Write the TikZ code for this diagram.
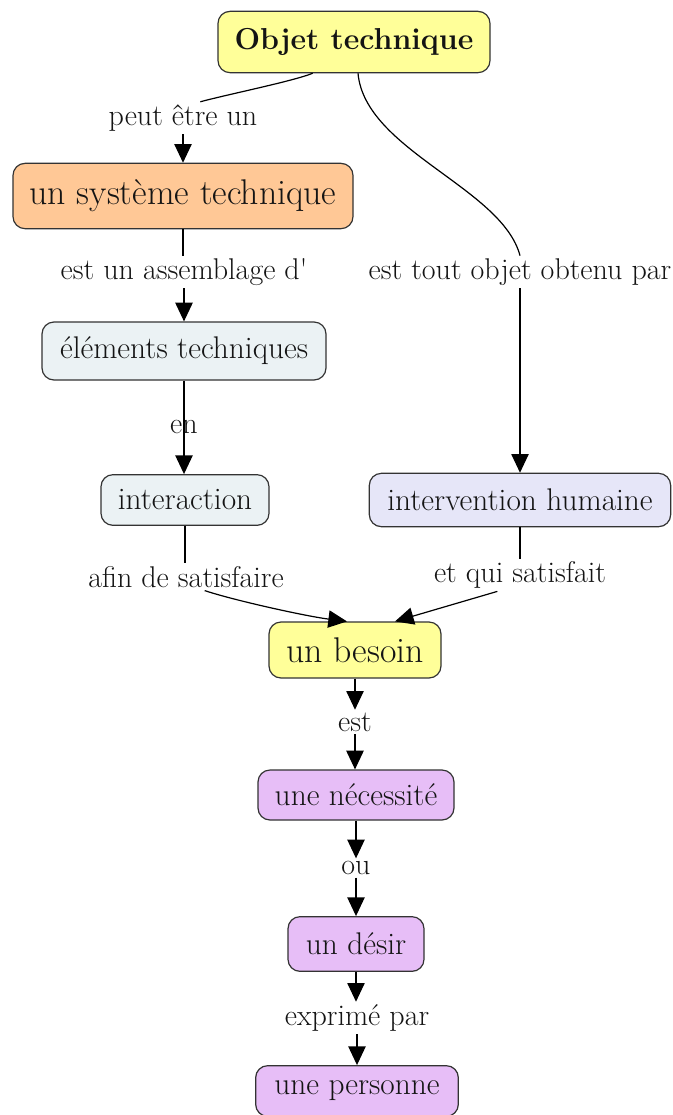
\documentclass[tikz,border=0pt]{standalone}
\usetikzlibrary{arrows.meta}

\definecolor{cmYellow}{RGB}{255,255,153}
\definecolor{cmOrange}{RGB}{255,200,150}
\definecolor{cmGrey}{RGB}{235,242,244}
\definecolor{cmLavender}{RGB}{230,230,248}
\definecolor{cmPurple}{RGB}{231,190,247}

\begin{document}
\begin{tikzpicture}[x=0.75pt,y=0.75pt,yscale=-1,xscale=1,
  concept/.style={draw=black!80, line width=0.9pt, rounded corners=9pt, inner sep=0pt,
    text=black!92, font=\fontsize{23.5}{26}\selectfont},
  bigconcept/.style={concept, font=\fontsize{26.8}{30}\selectfont},
  linkword/.style={inner sep=2pt, text=black!92, font=\fontsize{22.5}{25}\selectfont},
  arc/.style={line width=0.9pt, draw=black},
  arcto/.style={arc, -{Triangle[length=14pt,width=13pt]}}]
\useasboundingbox (0,0) rectangle (673,1115);

% Concepts
\node [concept, fill=cmYellow, minimum width=204pt, minimum height=46pt,
  font=\fontsize{22.7}{26}\selectfont\bfseries] (objet) at (354,42) {Objet technique};
\node [bigconcept, fill=cmOrange, minimum width=255pt, minimum height=49pt] (systeme) at (183,196) {un système technique};
\node [concept, fill=cmGrey, minimum width=213pt, minimum height=43.5pt] (elements) at (184,351) {éléments techniques};
\node [concept, fill=cmGrey, minimum width=126pt, minimum height=38pt] (interaction) at (185,500) {interaction};
\node [concept, fill=cmLavender, minimum width=226pt, minimum height=40pt] (intervention) at (520,500) {intervention humaine};
\node [bigconcept, fill=cmYellow, minimum width=129pt, minimum height=42pt] (besoin) at (355,650) {un besoin};
\node [concept, fill=cmPurple, minimum width=147pt, minimum height=37.5pt] (necessite) at (356,795) {une nécessité};
\node [concept, fill=cmPurple, minimum width=102pt, minimum height=41pt] (desir) at (356,944) {un désir};
\node [concept, fill=cmPurple, minimum width=152pt, minimum height=38pt] (personne) at (357,1091) {une personne};

% Linking phrases
\node [linkword] (peut) at (183,118) {peut être un};
\node [linkword] (assemblage) at (184,272) {est un assemblage d\textquotesingle};
\node [linkword] (obtenu) at (520,272) {est tout objet obtenu par};
\node [linkword] (en) at (184,427) {en};
\node [linkword] (afin) at (186,577) {afin de satisfaire};
\node [linkword] (satisfait) at (520,575) {et qui satisfait};
\node [linkword] (est) at (355,722) {est};
\node [linkword] (ou) at (356,868) {ou};
\node [linkword] (exprime) at (357,1018) {exprimé par};

% Left branch
\draw [arc] ([xshift=-31pt]objet.south) .. controls +(-20,8) and +(30,-8) .. ([xshift=13pt]peut.north);
\draw [arcto] (peut.south) -- (peut.south |- systeme.north);
\draw [arc] (systeme.south) -- (systeme.south |- assemblage.north);
\draw [arcto] (assemblage.south) -- (assemblage.south |- elements.north);
\draw [arcto] (elements.south) -- (elements.south |- interaction.north);
\draw [arc] (interaction.south) -- (interaction.south |- afin.north);
\draw [arcto] ([xshift=14pt]afin.south) .. controls +(30,10) and +(-40,-5) .. ([xshift=-6pt]besoin.north);

% Right branch
\draw [arc] ([xshift=3pt]objet.south) .. controls +(7,77) and +(-18,-68) .. (obtenu.north);
\draw [arcto] (obtenu.south) -- (intervention.north);
\draw [arc] (intervention.south) -- (satisfait.north);
\draw [arcto] ([xshift=-17pt]satisfait.south) -- ([xshift=30pt]besoin.north);

% Lower chain
\draw [arcto] (besoin.south) -- (besoin.south |- est.north);
\draw [arcto] (est.south) -- (est.south |- necessite.north);
\draw [arcto] (necessite.south) -- (necessite.south |- ou.north);
\draw [arcto] (ou.south) -- (ou.south |- desir.north);
\draw [arcto] (desir.south) -- (desir.south |- exprime.north);
\draw [arcto] (exprime.south) -- (exprime.south |- personne.north);

\end{tikzpicture}
\end{document}
